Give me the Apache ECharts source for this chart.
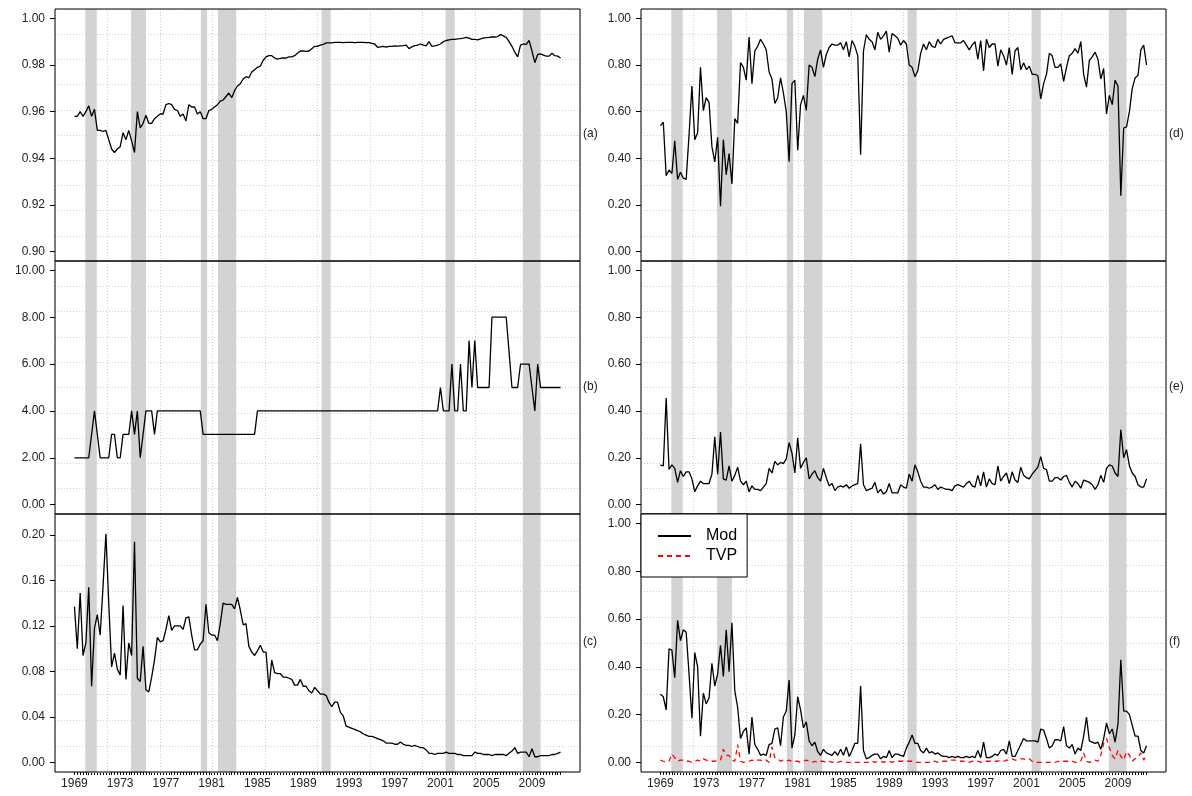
<!DOCTYPE html>
<html><head><meta charset="utf-8">
<script src="https://cdn.jsdelivr.net/npm/echarts@6/dist/echarts.min.js"></script>
<style>html,body{margin:0;padding:0;background:#fff}#c{width:1192px;height:796px}</style>
</head><body><div id="c"></div>
<script>
// ---- data (quarterly, 1969Q1 .. 2011Q3) ----
const startYear = 1969;
const recessions = [[1969.95,1970.95],[1973.95,1975.25],[1980.05,1980.6],[1981.55,1983.15],[1990.6,1991.4],[2001.45,2002.25],[2008.2,2009.75]];
const xLabelYears = [1969,1973,1977,1981,1985,1989,1993,1997,2001,2005,2009];
const yTicksA = [0.90,0.92,0.94,0.96,0.98,1.00];
const yTicksB = [0,2,4,6,8,10];
const yTicksC = [0,0.04,0.08,0.12,0.16,0.20];
const yTicksUnit = [0,0.2,0.4,0.6,0.8,1.0];
const panelLabels = ['(a)','(b)','(c)','(d)','(e)','(f)'];
const legendNames = ['Mod','TVP'];

const seriesA = [
0.958,0.958,0.960,0.958, 0.960,0.9625,0.958,0.961, 0.952,0.952,0.9515,0.952, 0.948,0.944,0.9425,0.944,
0.945,0.951,0.948,0.952, 0.9475,0.9425,0.960,0.953, 0.955,0.9585,0.955,0.955, 0.957,0.958,0.959,0.959,
0.963,0.9635,0.963,0.961, 0.9605,0.958,0.959,0.956, 0.963,0.962,0.962,0.959, 0.960,0.957,0.957,0.9605,
0.961,0.962,0.963,0.9645, 0.965,0.9665,0.968,0.966, 0.969,0.971,0.972,0.974, 0.975,0.9745,0.977,0.978,
0.979,0.9795,0.982,0.9835, 0.984,0.984,0.983,0.9825, 0.9828,0.983,0.983,0.9835, 0.9835,0.984,0.985,0.986,
0.986,0.9858,0.986,0.987, 0.988,0.988,0.9885,0.9888, 0.9895,0.9895,0.9895,0.9897, 0.9897,0.9897,0.9896,0.9897,
0.9897,0.9897,0.9896,0.9897, 0.9897,0.9897,0.9896,0.9896, 0.9893,0.9890,0.9876,0.9878, 0.9880,0.9877,0.9880,0.9880,
0.9882,0.9881,0.9882,0.9883, 0.9885,0.9870,0.9878,0.9883, 0.9885,0.9890,0.9885,0.9882, 0.9900,0.9880,0.9882,0.9885,
0.9890,0.9900,0.9905,0.9908, 0.9910,0.9910,0.9912,0.9913, 0.9915,0.9918,0.9915,0.9910, 0.9910,0.9908,0.9912,0.9915,
0.9917,0.9918,0.9920,0.9920, 0.9922,0.9930,0.9925,0.9918, 0.9900,0.9880,0.9855,0.9835, 0.9885,0.9890,0.9888,0.9905,
0.9860,0.9810,0.9845,0.9848, 0.9842,0.9838,0.9838,0.9850, 0.9840,0.9838,0.9830];

const seriesB = [
2,2,2,2, 2,2,3,4, 3,2,2,2, 2,3,3,2, 2,3,3,3, 4,3,4,2, 3,4,4,4, 3,4,4,4,
4,4,4,4, 4,4,4,4, 4,4,4,4, 4,3,3,3, 3,3,3,3, 3,3,3,3, 3,3,3,3, 3,3,3,3,
4,4,4,4, 4,4,4,4, 4,4,4,4, 4,4,4,4, 4,4,4,4, 4,4,4,4, 4,4,4,4, 4,4,4,4,
4,4,4,4, 4,4,4,4, 4,4,4,4, 4,4,4,4, 4,4,4,4, 4,4,4,4, 4,4,4,4, 4,4,4,4,
5,4,4,4, 6,4,4,6, 4,4,7,5, 7,5,5,5, 5,5,8,8, 8,8,8,8, 6.5,5,5,5, 6,6,6,6,
5,4,6,5, 5,5,5,5, 5,5,5];

const seriesC = [
0.137,0.100,0.149,0.094, 0.105,0.154,0.067,0.118, 0.130,0.112,0.155,0.201, 0.140,0.084,0.096,0.082,
0.077,0.138,0.073,0.105, 0.094,0.194,0.074,0.071, 0.102,0.064,0.062,0.075, 0.090,0.110,0.106,0.107,
0.117,0.129,0.116,0.120, 0.120,0.120,0.117,0.127, 0.128,0.112,0.099,0.099, 0.104,0.107,0.139,0.114,
0.112,0.112,0.107,0.122, 0.140,0.139,0.139,0.139, 0.135,0.145,0.134,0.121, 0.122,0.102,0.097,0.094,
0.098,0.103,0.097,0.097, 0.065,0.090,0.079,0.078, 0.078,0.075,0.075,0.074, 0.073,0.068,0.068,0.073,
0.067,0.067,0.063,0.061, 0.066,0.063,0.060,0.060, 0.059,0.053,0.049,0.053, 0.053,0.044,0.041,0.032,
0.031,0.030,0.029,0.028, 0.027,0.025,0.024,0.023, 0.023,0.022,0.021,0.020, 0.019,0.017,0.017,0.017,
0.016,0.016,0.018,0.016, 0.015,0.015,0.014,0.015, 0.014,0.013,0.013,0.011, 0.008,0.008,0.007,0.008,
0.008,0.008,0.009,0.008, 0.008,0.008,0.007,0.007, 0.006,0.006,0.006,0.006, 0.009,0.008,0.008,0.007,
0.007,0.007,0.006,0.007, 0.007,0.007,0.007,0.006, 0.008,0.010,0.013,0.008, 0.009,0.009,0.009,0.005,
0.012,0.005,0.005,0.006, 0.006,0.006,0.006,0.007, 0.007,0.008,0.009];

const seriesD = [
0.54,0.555,0.325,0.35, 0.335,0.475,0.31,0.34, 0.315,0.31,0.50,0.71, 0.48,0.51,0.79,0.605,
0.66,0.64,0.45,0.385, 0.49,0.195,0.48,0.33, 0.42,0.29,0.57,0.55, 0.81,0.79,0.735,0.92,
0.72,0.86,0.88,0.91, 0.89,0.865,0.77,0.74, 0.635,0.66,0.745,0.68, 0.60,0.385,0.72,0.735,
0.435,0.63,0.67,0.605, 0.80,0.79,0.75,0.825, 0.865,0.79,0.845,0.875, 0.89,0.885,0.885,0.895,
0.865,0.90,0.835,0.905, 0.88,0.84,0.415,0.86, 0.93,0.91,0.90,0.865, 0.94,0.91,0.925,0.945,
0.855,0.935,0.925,0.915, 0.885,0.905,0.89,0.80, 0.79,0.75,0.775,0.85, 0.89,0.865,0.90,0.88,
0.875,0.91,0.89,0.91, 0.915,0.92,0.925,0.895, 0.895,0.895,0.905,0.885, 0.865,0.885,0.90,0.825,
0.905,0.775,0.91,0.875, 0.89,0.89,0.795,0.865, 0.84,0.80,0.875,0.76, 0.86,0.875,0.78,0.81,
0.78,0.795,0.76,0.76, 0.755,0.655,0.72,0.76, 0.85,0.84,0.79,0.79, 0.805,0.73,0.79,0.84,
0.85,0.87,0.85,0.90, 0.76,0.705,0.82,0.835, 0.855,0.825,0.74,0.785, 0.59,0.67,0.63,0.735,
0.71,0.24,0.53,0.535, 0.60,0.70,0.745,0.755, 0.865,0.885,0.80];

const seriesE = [
0.17,0.165,0.455,0.15, 0.17,0.155,0.095,0.145, 0.12,0.14,0.14,0.11, 0.055,0.08,0.10,0.09,
0.09,0.09,0.13,0.29, 0.13,0.31,0.11,0.105, 0.165,0.10,0.125,0.16, 0.10,0.085,0.10,0.055,
0.08,0.065,0.065,0.06, 0.075,0.09,0.155,0.135, 0.185,0.17,0.18,0.175, 0.195,0.265,0.22,0.135,
0.285,0.155,0.18,0.20, 0.11,0.13,0.145,0.115, 0.10,0.155,0.115,0.08, 0.09,0.06,0.075,0.08,
0.075,0.085,0.07,0.08, 0.085,0.09,0.26,0.085, 0.06,0.065,0.07,0.095, 0.05,0.065,0.045,0.055,
0.09,0.05,0.05,0.05, 0.085,0.075,0.07,0.13, 0.10,0.17,0.14,0.10, 0.075,0.075,0.07,0.075,
0.085,0.065,0.075,0.07, 0.065,0.065,0.06,0.08, 0.085,0.08,0.075,0.09, 0.10,0.08,0.075,0.125,
0.08,0.14,0.075,0.11, 0.09,0.085,0.165,0.10, 0.12,0.135,0.09,0.14, 0.105,0.095,0.16,0.125,
0.115,0.11,0.13,0.145, 0.16,0.205,0.155,0.15, 0.10,0.10,0.115,0.115, 0.105,0.12,0.125,0.095,
0.075,0.10,0.09,0.07, 0.105,0.10,0.095,0.085, 0.065,0.085,0.125,0.095, 0.155,0.17,0.165,0.135,
0.12,0.32,0.20,0.235, 0.165,0.135,0.12,0.085, 0.075,0.075,0.11];

const seriesFMod = [
0.285,0.275,0.22,0.475, 0.47,0.355,0.595,0.51, 0.555,0.545,0.37,0.185, 0.46,0.40,0.11,0.29,
0.245,0.27,0.415,0.32, 0.37,0.49,0.36,0.555, 0.38,0.585,0.30,0.23, 0.10,0.13,0.145,0.035,
0.19,0.075,0.055,0.03, 0.035,0.03,0.075,0.08, 0.14,0.145,0.07,0.19, 0.215,0.345,0.06,0.115,
0.275,0.22,0.145,0.17, 0.09,0.07,0.085,0.045, 0.03,0.055,0.04,0.035, 0.03,0.045,0.03,0.055,
0.03,0.065,0.025,0.05, 0.08,0.08,0.32,0.05, 0.015,0.02,0.03,0.035, 0.035,0.015,0.025,0.02,
0.05,0.02,0.035,0.035, 0.03,0.025,0.06,0.085, 0.115,0.08,0.08,0.05, 0.04,0.06,0.04,0.045,
0.035,0.04,0.03,0.025, 0.025,0.02,0.025,0.02, 0.025,0.02,0.02,0.025, 0.02,0.025,0.02,0.05,
0.02,0.085,0.02,0.02, 0.025,0.035,0.03,0.05, 0.055,0.035,0.09,0.025, 0.025,0.05,0.075,0.10,
0.09,0.09,0.09,0.09, 0.085,0.14,0.135,0.10, 0.06,0.07,0.095,0.095, 0.09,0.15,0.07,0.06,
0.075,0.035,0.06,0.05, 0.11,0.19,0.09,0.085, 0.08,0.085,0.055,0.10, 0.165,0.12,0.14,0.085,
0.16,0.43,0.215,0.215, 0.20,0.155,0.11,0.11, 0.05,0.04,0.07];

const seriesFTvp = [
0.01,0.005,0.0,0.005, 0.035,0.02,0.005,0.01, 0.01,0.005,0.005,0.0, 0.005,0.01,0.005,0.015,
0.01,0.005,0.005,0.005, 0.01,0.01,0.055,0.03, 0.03,0.01,0.005,0.075, 0.005,0.0,0.005,0.005,
0.01,0.005,0.01,0.01, 0.005,0.01,0.0,0.065, 0.02,0.015,0.005,0.01, 0.005,0.01,0.005,0.005,
0.005,0.0,0.005,0.01, 0.005,0.0,0.005,0.0, 0.005,0.005,0.0,0.005, 0.0,0.005,0.0,0.005,
0.0,0.0,0.0,0.0, 0.0,0.0,0.0,0.0, 0.0,0.0,0.005,0.0, 0.005,0.005,0.0,0.005,
0.005,0.0,0.005,0.005, 0.005,0.005,0.005,0.005, 0.005,0.0,0.0,0.0, 0.0,0.0,0.0,0.005,
0.005,0.0,0.005,0.005, 0.005,0.01,0.01,0.01, 0.01,0.005,0.005,0.0, 0.0,0.005,0.005,0.005,
0.0,0.005,0.005,0.005, 0.005,0.005,0.005,0.01, 0.005,0.01,0.01,0.015, 0.01,0.01,0.015,0.015,
0.01,0.015,0.005,0.0, 0.0,0.0,0.0,0.0, 0.0,0.0,0.0,0.005, 0.0,0.005,0.005,0.005,
0.005,0.0,0.0,0.005, 0.04,0.005,0.0,0.005, 0.01,0.005,0.03,0.08, 0.10,0.06,0.03,0.015,
0.05,0.025,0.01,0.045, 0.03,0.005,0.015,0.02, 0.04,0.01,0.03];

// ---- build ----
const toXY = arr => arr.map((v, i) => [startYear + i / 4, v]);
const quarterTicks = seriesA.map((v, i) => startYear + i / 4);

const X_MIN = 1967.3, X_MAX = 2013.2;
const colLeft = [55, 641], colWidth = [525, 525];
const rowTop = [9, 261, 514], rowHeight = [252, 253, 258];
const yRanges = [[0.896,1.004],[-0.4,10.4],[-0.0084,0.2184],[-0.04,1.04],[-0.04,1.04],[-0.04,1.04]];
const yTicks = [yTicksA, yTicksB, yTicksC, yTicksUnit, yTicksUnit, yTicksUnit];
const panelData = [seriesA, seriesB, seriesC, seriesD, seriesE, seriesFMod];

const FONT = 'Liberation Sans, Arial, Helvetica, sans-serif';
const grid = [], xAxis = [], yAxis = [], series = [], graphic = [];

for (let p = 0; p < 6; p++) {
  const col = p < 3 ? 0 : 1, row = p % 3;
  grid.push({left: colLeft[col], top: rowTop[row], width: colWidth[col], height: rowHeight[row],
    show: true, borderColor: '#000', borderWidth: 1, backgroundColor: 'transparent', z: 10});
  const bottom = row === 2;
  xAxis.push({type: 'value', gridIndex: p, position: 'bottom', min: X_MIN, max: X_MAX, z: 1,
    axisLine: {show: false, onZero: false}, splitLine: {show: false},
    axisTick: {show: bottom, inside: false, customValues: quarterTicks, length: 3, lineStyle: {color: '#000', width: 1}},
    axisLabel: {show: bottom, customValues: xLabelYears, margin: 6, fontSize: 12, color: '#222', fontFamily: FONT,
      formatter: v => String(Math.round(v))}});
  yAxis.push({type: 'value', gridIndex: p, position: 'left', min: yRanges[p][0], max: yRanges[p][1], z: 1,
    axisLine: {show: false, onZero: false}, splitLine: {show: false},
    axisTick: {show: true, inside: false, customValues: yTicks[p], length: 5, lineStyle: {color: '#000', width: 1}},
    axisLabel: {show: true, customValues: yTicks[p], margin: 10, fontSize: 12, color: '#222', fontFamily: FONT,
      formatter: v => v.toFixed(2)}});
}
// dotted 10 x 10 reference grid drawn above the shading
for (let p = 0; p < 6; p++) {
  const dotted = {show: true, lineStyle: {color: '#cfcfcf', type: [1, 2], width: 1}};
  xAxis.push({type: 'value', gridIndex: p, min: 0, max: 10, interval: 1, z: 3,
    axisLine: {show: false, onZero: false}, axisTick: {show: false}, axisLabel: {show: false}, splitLine: dotted});
  yAxis.push({type: 'value', gridIndex: p, min: 0, max: 10, interval: 1, z: 3,
    axisLine: {show: false, onZero: false}, axisTick: {show: false}, axisLabel: {show: false}, splitLine: dotted});
}
for (let p = 0; p < 6; p++) {
  // recession shading
  series.push({type: 'line', xAxisIndex: p, yAxisIndex: p, z: 1, silent: true, symbol: 'none',
    data: [[startYear, yRanges[p][0]]], lineStyle: {opacity: 0},
    markArea: {silent: true, itemStyle: {color: '#d3d3d3'},
      data: recessions.map(r => [{xAxis: r[0]}, {xAxis: r[1]}])}});
  series.push({type: 'line', name: p === 5 ? legendNames[0] : 'S' + p, xAxisIndex: p, yAxisIndex: p, z: 5,
    symbol: 'none', silent: true, data: toXY(panelData[p]),
    lineStyle: {color: '#000', width: 1.3}, itemStyle: {color: '#000'}});
  const col = p < 3 ? 0 : 1, row = p % 3;
  graphic.push({type: 'text', left: colLeft[col] + colWidth[col] + 3, top: rowTop[row] + rowHeight[row] / 2 - 7,
    style: {text: panelLabels[p], font: '12px ' + FONT, fill: '#222'}});
}
series.push({type: 'line', name: legendNames[1], xAxisIndex: 5, yAxisIndex: 5, z: 4, symbol: 'none', silent: true,
  data: toXY(seriesFTvp), lineStyle: {color: '#ff0000', width: 1.3, type: [5, 4]}, itemStyle: {color: '#ff0000'}});

const chart = echarts.init(document.getElementById('c'), null, {renderer: 'canvas'});
chart.setOption({
  animation: false, backgroundColor: '#fff',
  grid, xAxis, yAxis, series, graphic,
  legend: {data: legendNames, left: 641, top: 514, orient: 'vertical', z: 20,
    backgroundColor: '#fff', borderColor: '#000', borderWidth: 1, borderRadius: 0,
    padding: [14, 10, 13, 16], itemWidth: 33, itemHeight: 14, itemGap: 4, selectedMode: false,
    itemStyle: {opacity: 0},
    textStyle: {fontSize: 16, color: '#000', fontFamily: FONT, padding: [0, 0, 0, 10]}}
});
</script></body></html>
